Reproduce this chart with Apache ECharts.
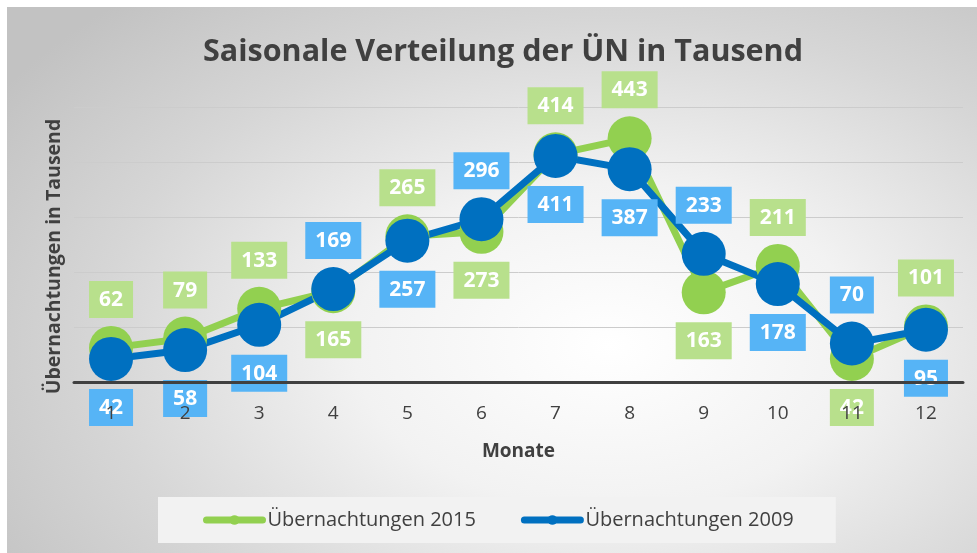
<!DOCTYPE html>
<html>
<head>
<meta charset="utf-8">
<script src="https://cdn.jsdelivr.net/npm/echarts@6/dist/echarts.min.js"></script>
<style>
  html, body { margin: 0; padding: 0; background: #fff; }
  #wrap {
    position: absolute; left: 7px; top: 7px; width: 970px; height: 546px;
    background: radial-gradient(ellipse 75% 85% at 62% 62%, #ffffff 0%, #f2f2f2 35%, #d6d6d6 70%, #c2c2c2 100%);
  }
  #chart { position: absolute; left: 0; top: 0; width: 977px; height: 553px; }
</style>
</head>
<body>
<div id="wrap"></div>
<div id="chart"></div>
<script>
const months = ['1', '2', '3', '4', '5', '6', '7', '8', '9', '10', '11', '12']
const values2015 = [62, 79, 133, 165, 265, 273, 414, 443, 163, 211, 42, 101]
const values2009 = [42, 58, 104, 169, 257, 296, 411, 387, 233, 178, 70, 95]

const FONT = 'Open Sans'
const green = '#92d050'
const blue = '#0070c0'

// der höhere Wert bekommt das Label oben, der andere unten
function withLabels(own, other) {
  return own.map((v, i) => ({
    value: v,
    label: { position: v >= other[i] ? 'top' : 'bottom' },
  }))
}

function makeSeries(name, data, color, boxColor) {
  return {
    name: name,
    type: 'line',
    data: data,
    symbol: 'circle',
    symbolSize: 44,
    lineStyle: { color: color, width: 7 },
    itemStyle: { color: color },
    label: {
      show: true,
      distance: 8,
      color: '#fff',
      fontFamily: FONT,
      fontWeight: 'bold',
      fontSize: 21,
      backgroundColor: boxColor,
      padding: [6, 10, 5, 10],
      lineHeight: 26,
    },
    emphasis: { disabled: true },
  }
}

const chart = echarts.init(document.getElementById('chart'))
chart.setOption({
  backgroundColor: 'transparent',
  animation: false,
  title: {
    text: 'Saisonale Verteilung der ÜN in Tausend',
    left: 498,
    textAlign: 'center',
    top: 32,
    textStyle: { fontFamily: FONT, fontWeight: 'bold', fontSize: 30.5, color: '#404040' },
  },
  legend: {
    bottom: 10,
    left: 158,
    padding: [13, 42, 13, 45],
    backgroundColor: '#f2f2f2',
    itemWidth: 56,
    itemHeight: 12,
    itemGap: 45,
    lineStyle: { width: 7, cap: 'round' },
    textStyle: { fontFamily: FONT, fontSize: 20, color: '#404040' },
    data: ['Übernachtungen 2015', 'Übernachtungen 2009'],
  },
  grid: { left: 74, right: 14, top: 107, bottom: 171 },
  xAxis: {
    type: 'category',
    data: months,
    z: 10,
    name: 'Monate',
    nameLocation: 'middle',
    nameGap: 60,
    nameTextStyle: { fontFamily: FONT, fontWeight: 'bold', fontSize: 19, color: '#404040' },
    axisLine: { lineStyle: { color: '#404040', width: 3 } },
    axisTick: { show: false },
    axisLabel: { fontFamily: FONT, fontSize: 19, color: '#404040', margin: 22 },
  },
  yAxis: {
    type: 'value',
    min: 0,
    max: 500,
    interval: 100,
    name: 'Übernachtungen in Tausend',
    nameLocation: 'middle',
    nameGap: 10,
    nameTextStyle: {
      fontFamily: FONT, fontWeight: 'bold', fontSize: 19.5, color: '#404040',
      padding: [0, 24, 0, 0],
    },
    axisLine: { show: false },
    axisTick: { show: false },
    axisLabel: { show: false },
    splitLine: { lineStyle: { color: '#cccccc', width: 1 } },
  },
  series: [
    makeSeries('Übernachtungen 2015', withLabels(values2015, values2009), green, '#b8e08c'),
    makeSeries('Übernachtungen 2009', withLabels(values2009, values2015), blue, '#56b4f6'),
  ],
})
</script>
</body>
</html>
